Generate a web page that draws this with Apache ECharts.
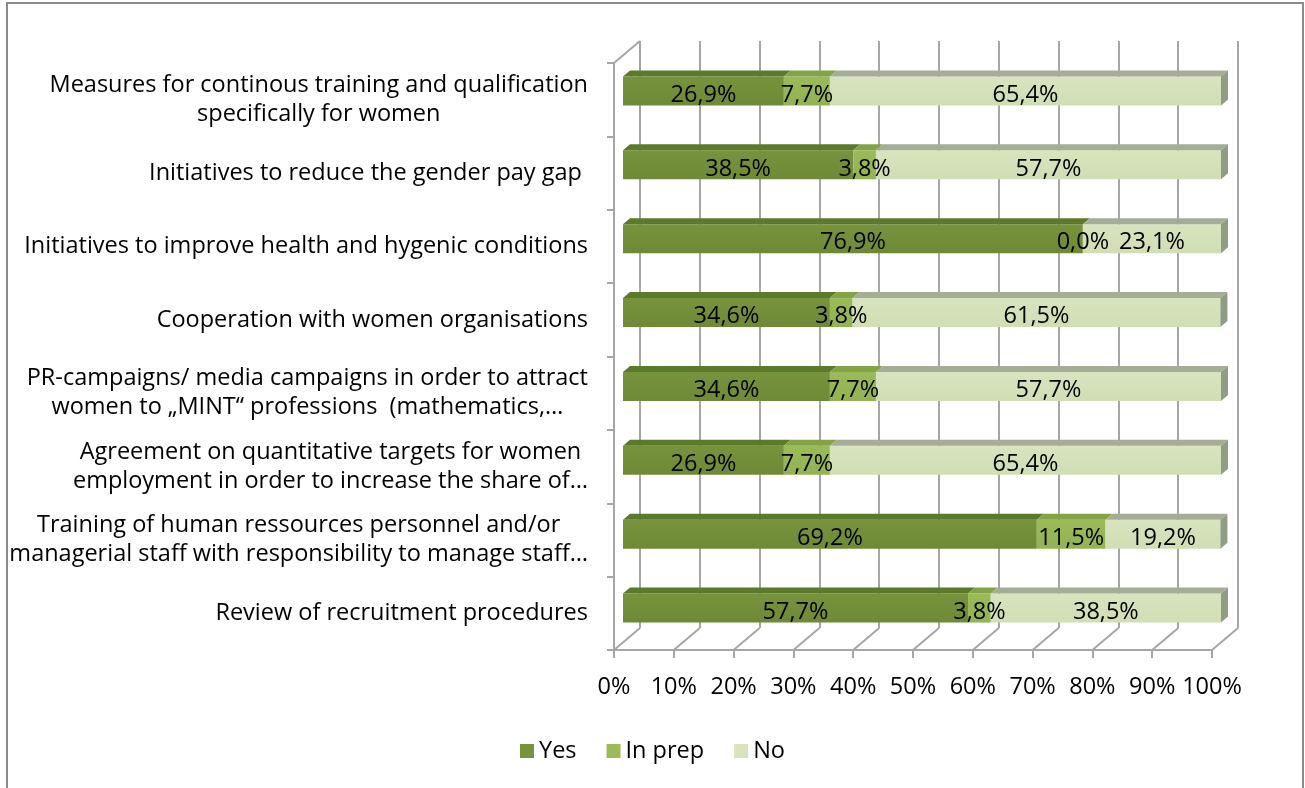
<!DOCTYPE html>
<html>
<head>
<meta charset="utf-8">
<script src="https://cdn.jsdelivr.net/npm/echarts@6/dist/echarts.min.js"></script>
<style>
  html, body { margin: 0; padding: 0; background: #fff; }
  #chart { width: 1305px; height: 788px; }
</style>
</head>
<body>
<div id="chart"></div>
<script>
// categories, top to bottom
const categories = [
  'Measures for continous training and qualification\nspecifically for women',
  'Initiatives to reduce the gender pay gap ',
  'Initiatives to improve health and hygenic conditions',
  'Cooperation with women organisations',
  'PR-campaigns/ media campaigns in order to attract\nwomen to \u201eMINT\u201c professions  (mathematics,\u2026',
  'Agreement on quantitative targets for women\nemployment in order to increase the share of\u2026',
  'Training of human ressources personnel and/or\nmanagerial staff with responsibility to manage staff\u2026',
  'Review of recruitment procedures'
]
const yesValues = [26.9, 38.5, 76.9, 34.6, 34.6, 26.9, 69.2, 57.7]
const prepValues = [7.7, 3.8, 0.0, 3.8, 7.7, 7.7, 11.5, 3.8]
const noValues = [65.4, 57.7, 23.1, 61.5, 57.7, 65.4, 19.2, 38.5]
const percentTicks = [0, 10, 20, 30, 40, 50, 60, 70, 80, 90, 100]

const FONT = 'Open Sans'
const FS = 23.5
const TEXT = '#000'
const GRID_LINE = '#a6a6a6'
const DEPTH = [26, -22]

const seriesDefs = [
  { name: 'Yes', values: yesValues, front: '#77933c', bottom: '#6f8a37', top: '#5c7a2b', side: '#5c7a2b' },
  { name: 'In prep', values: prepValues, front: '#9bbb59', bottom: '#93b252', top: '#84a346', side: '#84a346' },
  { name: 'No', values: noValues, front: '#d7e4bd', bottom: '#d0ddb5', top: '#a5ad97', side: '#909c86' }
]

function fmt(v) {
  return v.toFixed(1).replace('.', ',') + '%'
}

// stacked [start, end, category, value]
function stackData(idx) {
  return categories.map((c, i) => {
    let start = 0
    for (let k = 0; k < idx; k++) start += seriesDefs[k].values[i]
    const v = seriesDefs[idx].values[i]
    return [start, start + v, i, v]
  })
}

function barRenderer(def, isLast) {
  return function (params, api) {
    const start = api.value(0)
    const end = api.value(1)
    const cat = api.value(2)
    const val = api.value(3)
    const p0 = api.coord([start, cat])
    const p1 = api.coord([end, cat])
    const h = 29, dx = 7, dy = -6
    const x0 = p0[0], x1 = p1[0], yc = p0[1], top = yc - h / 2
    const children = [
      {
        type: 'rect',
        shape: { x: x0, y: top, width: x1 - x0, height: h },
        style: {
          fill: new echarts.graphic.LinearGradient(0, 0, 0, 1, [
            { offset: 0, color: def.front },
            { offset: 1, color: def.bottom }
          ])
        },
        z2: 1
      },
      {
        type: 'polygon',
        shape: { points: [[x0, top], [x0 + dx, top + dy], [x1 + dx, top + dy], [x1, top]] },
        style: { fill: def.top },
        z2: 1
      }
    ]
    if (isLast) {
      children.push({
        type: 'polygon',
        shape: { points: [[x1, top], [x1 + dx, top + dy], [x1 + dx, top + dy + h], [x1, top + h]] },
        style: { fill: def.side },
        z2: 1
      })
    }
    children.push({
      type: 'text',
      x: (x0 + x1) / 2,
      y: yc + 4,
      style: {
        text: fmt(val),
        fill: TEXT,
        font: FS + 'px "' + FONT + '"',
        align: 'center',
        verticalAlign: 'middle'
      },
      z2: 100
    })
    return { type: 'group', children }
  }
}

function floorRenderer(params, api) {
  const v = api.value(0)
  const cs = params.coordSys
  const x = api.coord([v, 0])[0]
  const yb = cs.y + cs.height
  const children = [{
    type: 'line',
    shape: { x1: x, y1: yb, x2: x + DEPTH[0], y2: yb + DEPTH[1] },
    style: { stroke: GRID_LINE, lineWidth: 2 }
  }]
  if (v === 0) {
    children.push({
      type: 'line',
      shape: { x1: x, y1: cs.y, x2: x + DEPTH[0], y2: cs.y + DEPTH[1] },
      style: { stroke: GRID_LINE, lineWidth: 2 }
    })
  }
  return { type: 'group', children }
}

const chart = echarts.init(document.getElementById('chart'))

const option = {
  animation: false,
  textStyle: { fontFamily: FONT },
  graphic: [{
    type: 'rect',
    shape: { x: 7, y: 3, width: 1296, height: 800 },
    style: { fill: 'none', stroke: '#8c8c8c', lineWidth: 2 },
    silent: true
  }],
  legend: {
    data: seriesDefs.map(d => d.name),
    left: 'center',
    top: 734,
    icon: 'rect',
    itemWidth: 14,
    itemHeight: 14,
    itemGap: 30,
    textStyle: { fontSize: FS, color: TEXT, fontFamily: FONT }
  },
  grid: [
    { left: 640, top: 41, width: 598, height: 587 },   // back wall
    { left: 614, top: 63, width: 598, height: 587 },   // front plane
    { left: 623, top: 54, width: 598, height: 591 }    // bars
  ],
  xAxis: [
    {
      gridIndex: 0, type: 'value', min: 0, max: 100, interval: 10,
      axisLine: { show: false }, axisTick: { show: false }, axisLabel: { show: false },
      splitLine: { show: true, lineStyle: { color: GRID_LINE, width: 2 } }
    },
    {
      gridIndex: 1, type: 'value', min: 0, max: 100, interval: 10,
      axisLine: { show: true, lineStyle: { color: GRID_LINE, width: 2 } },
      axisTick: { show: true, length: 8, lineStyle: { color: GRID_LINE, width: 2 } },
      axisLabel: { formatter: v => v + '%', fontSize: FS, color: TEXT, margin: 25, fontFamily: FONT },
      splitLine: { show: false }
    },
    { gridIndex: 2, type: 'value', min: 0, max: 100, show: false }
  ],
  yAxis: [
    { gridIndex: 0, type: 'category', data: categories, inverse: true, show: false },
    {
      gridIndex: 1, type: 'category', data: categories, inverse: true,
      axisLine: { show: true, lineStyle: { color: GRID_LINE, width: 2 } },
      axisTick: { show: true, length: 7, lineStyle: { color: GRID_LINE, width: 2 } },
      splitLine: { show: false },
      axisLabel: {
        margin: 26,
        color: TEXT,
        formatter: s => s.split('\n').map(l => '{c|' + l + '}').join('\n'),
        rich: { c: { align: 'center', fontSize: FS, lineHeight: 29, color: TEXT, fontFamily: FONT } }
      }
    },
    { gridIndex: 2, type: 'category', data: categories, inverse: true, show: false }
  ],
  series: [
    {
      type: 'custom',
      name: 'floor',
      xAxisIndex: 1,
      yAxisIndex: 1,
      silent: true,
      data: percentTicks.map(t => [t, 0]),
      renderItem: floorRenderer
    }
  ].concat(seriesDefs.map((d, i) => ({
    type: 'custom',
    name: d.name,
    xAxisIndex: 2,
    yAxisIndex: 2,
    itemStyle: { color: d.front },
    encode: { x: [0, 1], y: 2 },
    data: stackData(i),
    renderItem: barRenderer(d, i === seriesDefs.length - 1)
  })))
}

chart.setOption(option)
window.addEventListener('resize', () => chart.resize())
</script>
</body>
</html>
